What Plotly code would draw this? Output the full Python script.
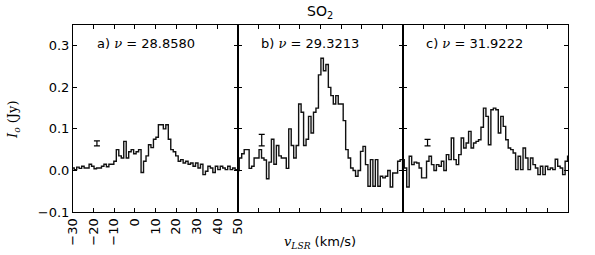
import plotly.graph_objects as go

# Velocity channels (km/s)
VELOCITY = [-30.0, -28.8, -27.6, -26.4, -25.2, -24.0, -22.8, -21.6, -20.4, -19.2,
            -18.0, -16.8, -15.6, -14.4, -13.2, -12.0, -10.8, -9.6, -8.4, -7.2,
            -6.0, -4.8, -3.6, -2.4, -1.2, 0.0, 1.2, 2.4, 3.6, 4.8,
            6.0, 7.2, 8.4, 9.6, 10.8, 12.0, 13.2, 14.4, 15.6, 16.8,
            18.0, 19.2, 20.4, 21.6, 22.8, 24.0, 25.2, 26.4, 27.6, 28.8,
            30.0, 31.2, 32.4, 33.6, 34.8, 36.0, 37.2, 38.4, 39.6, 40.8,
            42.0, 43.2, 44.4, 45.6, 46.8, 48.0, 49.2, 50.4]

# Intensity (Jy) for each panel
FLUX_A = [0.006, 0.002, 0.008, 0.005, 0.01, 0.006, 0.006, 0.015, 0.01, 0.004,
          0.006, 0.006, 0.01, 0.015, 0.009, 0.015, 0.015, 0.022, 0.05, 0.035,
          0.03, 0.07, 0.03, 0.045, 0.05, 0.04, 0.045, 0.05, -0.005, 0.022,
          0.035, 0.062, 0.055, 0.075, 0.08, 0.11, 0.11, 0.1, 0.11, 0.075,
          0.05, 0.045, 0.035, 0.022, 0.026, 0.018, 0.022, 0.015, 0.018, 0.01,
          0.018, 0.006, 0.015, -0.01, -0.002, 0.01, 0.006, -0.005, 0.01, 0.002,
          0.01, 0.006, 0.002, 0.01, 0.002, 0.006, 0.002, 0.002]
FLUX_B = [0.0, 0.03, 0.04, 0.05, 0.05, 0.005, 0.01, 0.03, 0.03, 0.05,
          0.03, 0.025, -0.02, 0.02, 0.075, 0.015, 0.06, 0.035, 0.03, 0.03,
          0.005, 0.1, 0.06, 0.03, 0.06, 0.16, 0.14, 0.06, 0.075, 0.13,
          0.09, 0.14, 0.15, 0.23, 0.27, 0.24, 0.255, 0.2, 0.18, 0.16,
          0.18, 0.16, 0.16, 0.12, 0.05, 0.03, 0.006, 0.0, -0.014, 0.0,
          0.046, 0.058, 0.014, -0.038, 0.026, -0.038, 0.026, -0.038, -0.014, -0.018,
          -0.014, 0.0, -0.04, -0.006, -0.006, 0.022, 0.026, 0.0]
FLUX_C = [0.026, 0.006, -0.04, 0.034, 0.014, 0.02, 0.018, 0.006, -0.018, -0.018,
          0.022, 0.034, 0.014, 0.0, 0.014, 0.01, 0.022, 0.0, 0.038, 0.026,
          0.078, 0.026, 0.014, 0.038, 0.078, 0.054, 0.066, 0.094, 0.054, 0.066,
          0.07, 0.074, 0.104, 0.15, 0.13, 0.062, 0.146, 0.15, 0.146, 0.09,
          0.13, 0.106, 0.074, 0.054, 0.05, 0.042, 0.002, 0.034, 0.002, 0.054,
          0.03, 0.002, 0.03, 0.014, 0.006, -0.01, 0.01, -0.01, 0.01, 0.002,
          0.006, 0.002, 0.027, 0.01, 0.006, -0.01, 0.022, 0.034]

PANEL_LABELS = ["a)", "b)", "c)"]
FREQUENCIES = ["28.8580", "29.3213", "31.9222"]

# Noise error bars
ERR_V = [-18.4, -18.5, -18.1]
ERR_I = [0.065, 0.073, 0.067]
ERR_HALF = [0.006, 0.014, 0.008]

X_TICKS = [-30, -20, -10, 0, 10, 20, 30, 40, 50]
X_TICKTEXT = ["\u221230", "\u221220", "\u221210", "0", "10", "20", "30", "40", "50"]
Y_TICKS = [-0.1, 0.0, 0.1, 0.2, 0.3]
Y_TICKTEXT = ["\u22120.1", "0.0", "0.1", "0.2", "0.3"]

W, H = 595, 255
x_px = [(73, 238), (238, 403), (403, 568)]
y_px = (25, 212)

fig = go.Figure()
fluxes = [FLUX_A, FLUX_B, FLUX_C]
SANS = "DejaVu Sans"
SERIF = "DejaVu Serif"

for i in range(3):
    sfx = "" if i == 0 else str(i + 1)
    fig.add_trace(go.Scatter(
        x=VELOCITY, y=fluxes[i], mode="lines",
        line=dict(color="#111111", width=1.4, shape="hvh"),
        xaxis="x" + sfx, yaxis="y" + sfx, showlegend=False, hoverinfo="skip"))
    fig.add_trace(go.Scatter(
        x=[ERR_V[i]], y=[ERR_I[i]], mode="markers",
        marker=dict(size=1, color="rgba(0,0,0,0)"),
        error_y=dict(type="data", array=[ERR_HALF[i]], color="black",
                     thickness=1.2, width=3),
        xaxis="x" + sfx, yaxis="y" + sfx, showlegend=False, hoverinfo="skip"))

    x0, x1 = x_px[i]
    common = dict(showgrid=False, zeroline=False, showline=True, linecolor="black",
                  linewidth=1, ticks="inside", ticklen=4, tickcolor="black",
                  tickwidth=1, mirror="ticks", automargin=False,
                  tickfont=dict(family=SANS, size=13, color="black"))
    fig.layout["xaxis" + sfx] = dict(
        domain=[x0 / W, x1 / W], range=[-30, 50], anchor="y" + sfx,
        tickvals=X_TICKS, ticktext=X_TICKTEXT, tickangle=-90,
        showticklabels=(i == 0), **common)
    fig.layout["yaxis" + sfx] = dict(
        domain=[1 - y_px[1] / H, 1 - y_px[0] / H], range=[-0.1, 0.35],
        anchor="x" + sfx, tickvals=Y_TICKS, ticktext=Y_TICKTEXT,
        showticklabels=(i == 0), **common)

annotations = []
label_x = [95, 259, 424]
for i in range(3):
    annotations.append(dict(
        xref="paper", yref="paper", x=label_x[i] / W, y=1 - 43 / H,
        xanchor="left", yanchor="middle", showarrow=False,
        text=(f"{PANEL_LABELS[i]} <span style='font-family:{SERIF}'><i>\u03bd</i></span>"
              f" = {FREQUENCIES[i]}"),
        font=dict(family=SANS, size=13, color="black")))

annotations.append(dict(
    xref="paper", yref="paper", x=320 / W, y=1 - 12 / H, xanchor="center",
    yanchor="middle", showarrow=False, text="SO<sub>2</sub>",
    font=dict(family=SANS, size=14, color="black")))
annotations.append(dict(
    xref="paper", yref="paper", x=13 / W, y=1 - 120 / H, xanchor="center",
    yanchor="middle", showarrow=False, textangle=-90,
    text="<i>I</i><sub><i>o</i></sub> (Jy)",
    font=dict(family=SERIF, size=13, color="black")))
annotations.append(dict(
    xref="paper", yref="paper", x=320 / W, y=1 - 242 / H, xanchor="center",
    yanchor="middle", showarrow=False,
    text=(f"<span style='font-family:{SERIF}'><i>v</i><sub><i>LSR</i></sub></span> (km/s)"),
    font=dict(family=SANS, size=13, color="black")))

fig.update_layout(
    width=W, height=H, margin=dict(l=0, r=0, t=0, b=0, autoexpand=False),
    paper_bgcolor="white", plot_bgcolor="white",
    annotations=annotations)

fig.write_html(
    "out.html",
    config={"displayModeBar": False, "staticPlot": True},
    post_script="document.body.style.margin='0';"
                "document.documentElement.style.overflow='hidden';")
